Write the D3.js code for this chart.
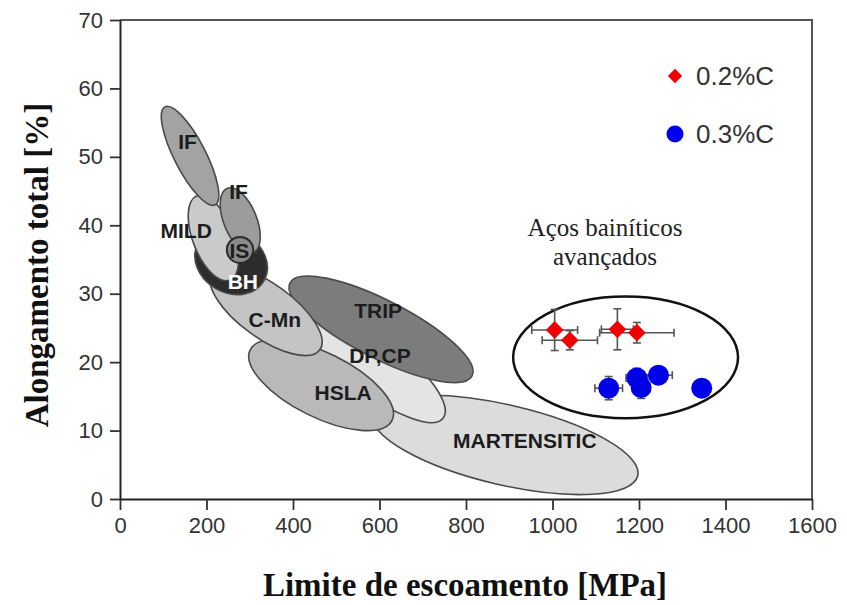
<!DOCTYPE html>
<html><head><meta charset="utf-8">
<script src="https://cdn.jsdelivr.net/npm/d3@7"></script>
<style>body{margin:0;background:#fff}svg{display:block}</style>
</head><body>
<svg id="c" width="847" height="605"></svg>
<script>
// ---- data ----
const xTicks = [0,200,400,600,800,1000,1200,1400,1600];
const yTicks = [0,10,20,30,40,50,60,70];
// steel families: name, major-axis endpoints (MPa, %), minor semi-axis (%), label position
const regionNames = ["MARTENSITIC","DP,CP","TRIP","HSLA","C-Mn","BH","MILD","IF","IS","IF"];
const regionAxis = [
  [584,12.4,1197,3.4],
  [428,27.6,747,11.8],
  [393,31.6,814,18.0],
  [301,21.8,629,11.5],
  [213,33.2,462,21.8],
  [181,37.4,333,31.9],
  [178,44.3,254,32.0],
  [248,45.4,308,36.0],
  [247,36.4,308,36.4],
  [104,57.3,220,43.0]
];
const regionWidth = [5.85,4.1,4.24,4.7,3.95,4.5,3.0,2.4,1.9,2.3];
const regionLabel = [[936,8.6],[601,20.9],[597,27.6],[516,15.5],[358,26.2],[284,31.8],[153,39.3],[274,45.0],[276,36.3],[156,52.3]];
const regionFill = ["#dcdcdc","#e4e4e4","#7c7c7c","#b9b9b9","#c4c4c4","#2d2d2d","#cacaca","#9c9c9c","#8a8a8a","#a3a3a3"];
// advanced bainitic steels
const c02x = [1005,1040,1150,1195];
const c02y = [24.7,23.2,24.8,24.3];
const c02ex = [53,64,37,86];
const c02ey = [3.0,1.4,3.0,1.5];
const c03x = [1130,1195,1205,1245,1345];
const c03y = [16.2,17.7,16.3,18.1,16.2];
const c03ex = [32,25,20,32,0];
const c03ey = [1.7,1.4,1.6,1.2,0];
const groupAxis = [909,20.7,1429,20.7];
const groupWidth = 8.9;

// ---- chart ----
const svg = d3.select("#c");
const x = d3.scaleLinear().domain([0,1600]).range([120,812]);
const y = d3.scaleLinear().domain([0,70]).range([499,20]);
const pyu = y(0)-y(1);

function drawEllipse(g, a, w, fill, stroke, sw){
  const x1=x(a[0]),y1=y(a[1]),x2=x(a[2]),y2=y(a[3]);
  const cx=(x1+x2)/2, cy=(y1+y2)/2;
  const rx=Math.hypot(x2-x1,y2-y1)/2;
  const ang=Math.atan2(y2-y1,x2-x1)*180/Math.PI;
  g.append("ellipse").attr("cx",0).attr("cy",0).attr("rx",rx).attr("ry",w*pyu)
    .attr("transform",`translate(${cx},${cy}) rotate(${ang})`)
    .attr("fill",fill).attr("stroke",stroke).attr("stroke-width",sw);
}

const gR = svg.append("g");
regionAxis.forEach((a,i)=>{
  drawEllipse(gR,a,regionWidth[i],regionFill[i], i===8?"#2a2a2a":"#4a4a4a", i===8?2:1.6);
});
regionNames.forEach((n,i)=>{
  gR.append("text").attr("x",x(regionLabel[i][0])).attr("y",y(regionLabel[i][1]))
    .attr("text-anchor","middle").attr("dominant-baseline","central")
    .attr("font-family","Liberation Sans, Arial, sans-serif").attr("font-weight","bold")
    .attr("font-size",21).attr("fill", n==="BH"?"#ffffff":"#1c1c1c")
    .text(n);
});

// group ellipse
drawEllipse(svg.append("g"),groupAxis,groupWidth,"none","#111",2.5);
svg.append("text").attr("x",605).attr("y",236).attr("text-anchor","middle")
  .attr("font-family","Liberation Serif, Times New Roman, serif").attr("font-size",25).attr("fill","#222")
  .text("Aços bainíticos");
svg.append("text").attr("x",605).attr("y",265).attr("text-anchor","middle")
  .attr("font-family","Liberation Serif, Times New Roman, serif").attr("font-size",25).attr("fill","#222")
  .text("avançados");

// error bars
function errBars(xs,ys,exs,eys){
  const g=svg.append("g").attr("stroke","#555").attr("stroke-width",1.6);
  xs.forEach((v,i)=>{
    const cx=x(v), cy=y(ys[i]);
    if(exs[i]>0){
      const a=x(v-exs[i]), b=x(v+exs[i]);
      g.append("line").attr("x1",a).attr("x2",b).attr("y1",cy).attr("y2",cy);
      g.append("line").attr("x1",a).attr("x2",a).attr("y1",cy-4).attr("y2",cy+4);
      g.append("line").attr("x1",b).attr("x2",b).attr("y1",cy-4).attr("y2",cy+4);
    }
    if(eys[i]>0){
      const a=y(ys[i]-eys[i]), b=y(ys[i]+eys[i]);
      g.append("line").attr("x1",cx).attr("x2",cx).attr("y1",a).attr("y2",b);
      g.append("line").attr("x1",cx-4).attr("x2",cx+4).attr("y1",a).attr("y2",a);
      g.append("line").attr("x1",cx-4).attr("x2",cx+4).attr("y1",b).attr("y2",b);
    }
  });
}
errBars(c02x,c02y,c02ex,c02ey);
errBars(c03x,c03y,c03ex,c03ey);
const diamond = d3.symbol().type(d3.symbolDiamond2).size(200);
svg.append("g").selectAll("path").data(c02x).join("path")
  .attr("d",diamond).attr("transform",(d,i)=>`translate(${x(d)},${y(c02y[i])})`)
  .attr("fill","#f00000");
svg.append("g").selectAll("circle").data(c03x).join("circle")
  .attr("cx",d=>x(d)).attr("cy",(d,i)=>y(c03y[i])).attr("r",10.5).attr("fill","#0000e8");

// legend
svg.append("path").attr("d",d3.symbol().type(d3.symbolDiamond2).size(130)).attr("transform","translate(675,76)").attr("fill","#f00000");
svg.append("circle").attr("cx",675).attr("cy",134).attr("r",8.5).attr("fill","#0000e8");
[["0.2%C",76],["0.3%C",134]].forEach(([t,yy])=>{
  svg.append("text").attr("x",696).attr("y",yy).attr("dominant-baseline","central")
    .attr("font-family","Liberation Sans, Arial, sans-serif").attr("font-size",26).attr("fill","#333").text(t);
});

// frame and axes
svg.append("path").attr("d",`M120,20H812V499`).attr("fill","none").attr("stroke","#555").attr("stroke-width",2);
const ax = svg.append("g").attr("transform","translate(0,499)")
  .call(d3.axisBottom(x).tickValues(xTicks).tickFormat(d3.format("d")).tickSize(11).tickPadding(7).tickSizeOuter(0));
const ay = svg.append("g").attr("transform","translate(120,0)")
  .call(d3.axisLeft(y).tickValues(yTicks).tickFormat(d3.format("d")).tickSize(10).tickPadding(7).tickSizeOuter(0));
[ax,ay].forEach(a=>{
  a.select(".domain").attr("stroke","#222").attr("stroke-width",2);
  a.selectAll(".tick line").attr("stroke","#333").attr("stroke-width",1.8);
  a.selectAll(".tick text").attr("font-family","Liberation Sans, Arial, sans-serif").attr("font-size",22).attr("fill","#333");
});

svg.append("text").attr("x",465).attr("y",596).attr("text-anchor","middle")
  .attr("font-family","Liberation Serif, Times New Roman, serif").attr("font-weight","bold").attr("font-size",33).attr("fill","#111")
  .text("Limite de escoamento [MPa]");
svg.append("text").attr("transform","translate(48,265) rotate(-90)").attr("text-anchor","middle")
  .attr("font-family","Liberation Serif, Times New Roman, serif").attr("font-weight","bold").attr("font-size",33).attr("fill","#111")
  .text("Alongamento total [%]");
</script>
</body></html>
